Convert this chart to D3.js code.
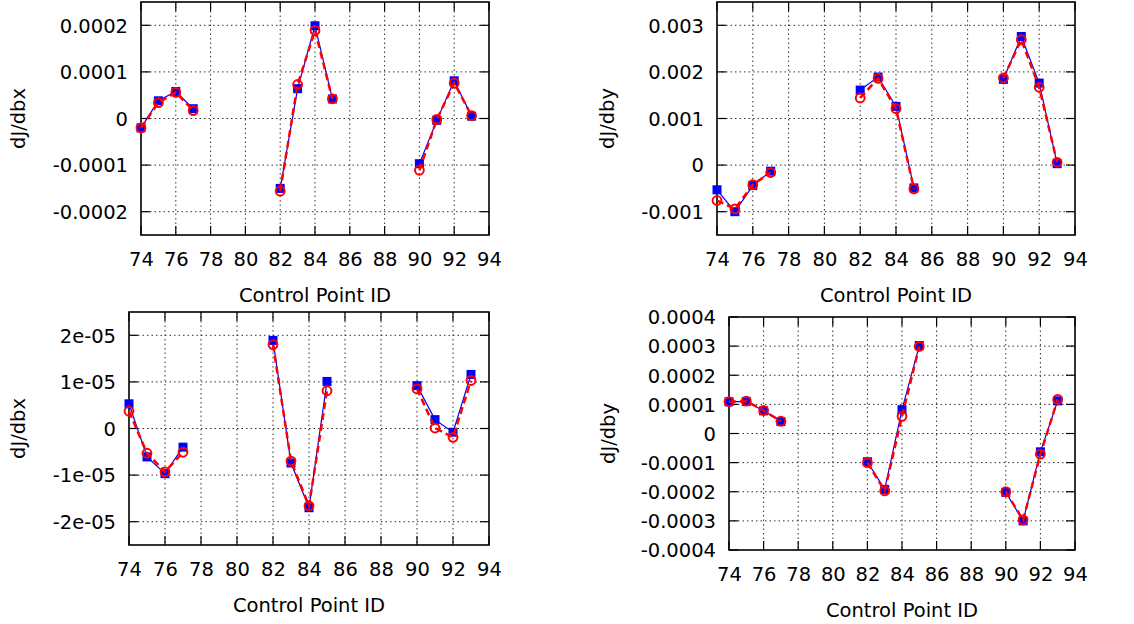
<!DOCTYPE html>
<html><head><meta charset="utf-8">
<script src="https://cdn.jsdelivr.net/npm/d3@7"></script>
<style>
html,body{margin:0;padding:0;background:#fff;}
svg{display:block;font-family:"DejaVu Sans",sans-serif;}
</style></head>
<body>
<svg id="chart" width="1134" height="624"></svg>
<script>
// ---- data ----
const controlIds = [74, 75, 76, 77, 82, 83, 84, 85, 90, 91, 92, 93];
const xTicks = [74, 76, 78, 80, 82, 84, 86, 88, 90, 92, 94];

const topDbxBlue = [-0.000020, 0.000038, 0.000058, 0.000021, -0.000150, 0.000064, 0.000199, 0.000042, -0.000097, -0.000004, 0.000081, 0.000005];
const topDbxRed  = [-0.000020, 0.000034, 0.000056, 0.000017, -0.000156, 0.000073, 0.000189, 0.000042, -0.000111, -0.000002, 0.000076, 0.000006];

const topDbyBlue = [-0.00053, -0.00100, -0.00044, -0.00013, 0.00161, 0.00189, 0.00126, -0.00049, 0.00184, 0.00276, 0.00176, 0.00003];
const topDbyRed  = [-0.00076, -0.00094, -0.00042, -0.00016, 0.00144, 0.00186, 0.00121, -0.00051, 0.00187, 0.00269, 0.00167, 0.00006];

const botDbxBlue = [5.3e-6, -6.1e-6, -9.7e-6, -4.0e-6, 1.89e-5, -7.4e-6, -1.70e-5, 1.01e-5, 9.2e-6, 1.9e-6, -0.8e-6, 1.16e-5];
const botDbxRed  = [3.7e-6, -5.3e-6, -9.3e-6, -5.1e-6, 1.80e-5, -7.0e-6, -1.66e-5, 8.1e-6, 8.5e-6, 0.1e-6, -1.9e-6, 1.03e-5];

const botDbyBlue = [0.000109, 0.000110, 0.000078, 0.000041, -0.000097, -0.000192, 0.000082, 0.000302, -0.000202, -0.000300, -0.000063, 0.000112];
const botDbyRed  = [0.000109, 0.000111, 0.000079, 0.000042, -0.000100, -0.000197, 0.000059, 0.000299, -0.000200, -0.000297, -0.000071, 0.000117];

const topDbxTicks = [0.0002, 0.0001, 0, -0.0001, -0.0002];
const topDbxTickLabels = ["0.0002", "0.0001", "0", "-0.0001", "-0.0002"];
const topDbyTicks = [0.003, 0.002, 0.001, 0, -0.001];
const topDbyTickLabels = ["0.003", "0.002", "0.001", "0", "-0.001"];
const botDbxTicks = [2e-5, 1e-5, 0, -1e-5, -2e-5];
const botDbxTickLabels = ["2e-05", "1e-05", "0", "-1e-05", "-2e-05"];
const botDbyTicks = [0.0004, 0.0003, 0.0002, 0.0001, 0, -0.0001, -0.0002, -0.0003, -0.0004];
const botDbyTickLabels = ["0.0004", "0.0003", "0.0002", "0.0001", "0", "-0.0001", "-0.0002", "-0.0003", "-0.0004"];

const xLabel = "Control Point ID";

// ---- layout ----
const FS = 19.5;
const panels = [
  {box:[141, 489, 2, 235], yDom:[-0.00025, 0.00025], ticks:topDbxTicks, labels:topDbxTickLabels, ylab:"dJ/dbx", ylabX:18, blue:topDbxBlue, red:topDbxRed},
  {box:[717, 1075, 2, 235], yDom:[-0.0015, 0.0035], ticks:topDbyTicks, labels:topDbyTickLabels, ylab:"dJ/dby", ylabX:607, blue:topDbyBlue, red:topDbyRed},
  {box:[129, 489, 312, 545], yDom:[-2.5e-5, 2.5e-5], ticks:botDbxTicks, labels:botDbxTickLabels, ylab:"dJ/dbx", ylabX:18, blue:botDbxBlue, red:botDbxRed},
  {box:[729, 1075, 317, 550], yDom:[-0.0004, 0.0004], ticks:botDbyTicks, labels:botDbyTickLabels, ylab:"dJ/dby", ylabX:608, blue:botDbyBlue, red:botDbyRed}
];

const svg = d3.select("#chart");

function runs(values) {
  const pts = controlIds.map((id, i) => ({id, v: values[i]}));
  const out = [];
  let cur = [];
  pts.forEach((p, i) => {
    if (i > 0 && p.id - pts[i - 1].id > 1) { out.push(cur); cur = []; }
    cur.push(p);
  });
  out.push(cur);
  return out;
}

panels.forEach(p => {
  const [L, R, T, B] = p.box;
  const x = d3.scaleLinear().domain([74, 94]).range([L, R]);
  const y = d3.scaleLinear().domain(p.yDom).range([B, T]);
  const g = svg.append("g");

  // grid
  const grid = g.append("g").attr("stroke", "#333").attr("stroke-width", 1)
    .attr("stroke-dasharray", "1.5,3");
  xTicks.filter(t => t > 74 && t < 94).forEach(t => {
    grid.append("line").attr("x1", x(t)).attr("x2", x(t)).attr("y1", T).attr("y2", B);
  });
  p.ticks.filter(t => y(t) > T + 1 && y(t) < B - 1).forEach(t => {
    grid.append("line").attr("x1", L).attr("x2", R).attr("y1", y(t)).attr("y2", y(t));
  });

  // axes (gnuplot style: inward ticks, mirrored)
  const tl = 9;
  const ax = g.append("g").attr("stroke", "#000").attr("stroke-width", 1.2);
  xTicks.forEach(t => {
    ax.append("line").attr("x1", x(t)).attr("x2", x(t)).attr("y1", B).attr("y2", B - tl);
    ax.append("line").attr("x1", x(t)).attr("x2", x(t)).attr("y1", T).attr("y2", T + tl);
  });
  p.ticks.forEach(t => {
    ax.append("line").attr("x1", L).attr("x2", L + tl).attr("y1", y(t)).attr("y2", y(t));
    ax.append("line").attr("x1", R).attr("x2", R - tl).attr("y1", y(t)).attr("y2", y(t));
  });
  g.append("rect").attr("x", L).attr("y", T).attr("width", R - L).attr("height", B - T)
    .attr("fill", "none").attr("stroke", "#000").attr("stroke-width", 1.6);

  // tick labels
  const xAxis = d3.axisBottom(x).tickValues(xTicks).tickSize(0).tickPadding(0).tickFormat(d3.format("d"));
  const xa = g.append("g").attr("transform", `translate(0,${B + 24})`).call(xAxis);
  xa.select(".domain").remove();
  xa.selectAll("text").attr("font-size", FS).attr("font-family", "DejaVu Sans").attr("fill", "#000")
    .attr("dy", "0.35em").attr("y", 0);

  const yAxis = d3.axisLeft(y).tickValues(p.ticks).tickSize(0).tickPadding(0)
    .tickFormat((d, i) => p.labels[i]);
  const ya = g.append("g").attr("transform", `translate(${L - 13},0)`).call(yAxis);
  ya.select(".domain").remove();
  ya.selectAll("text").attr("font-size", FS).attr("font-family", "DejaVu Sans").attr("fill", "#000")
    .attr("dy", "0.35em").attr("x", 0);

  // axis titles
  g.append("text").attr("x", (L + R) / 2).attr("y", B + 60).attr("dy", "0.35em")
    .attr("text-anchor", "middle").attr("font-size", FS).text(xLabel);
  g.append("text").attr("transform", `translate(${p.ylabX},${(T + B) / 2}) rotate(-90)`)
    .attr("dy", "0.35em").attr("text-anchor", "middle").attr("font-size", FS).text(p.ylab);

  const line = d3.line().x(d => x(d.id)).y(d => y(d.v));

  // blue series
  runs(p.blue).forEach(r => {
    g.append("path").attr("d", line(r)).attr("fill", "none").attr("stroke", "#0000ff").attr("stroke-width", 1.2);
  });
  g.append("g").selectAll("rect").data(controlIds.map((id, i) => ({id, v: p.blue[i]}))).join("rect")
    .attr("x", d => x(d.id) - 4.5).attr("y", d => y(d.v) - 4.5).attr("width", 9).attr("height", 9)
    .attr("fill", "#0000ff");

  // red series
  runs(p.red).forEach(r => {
    g.append("path").attr("d", line(r)).attr("fill", "none").attr("stroke", "#ff0000").attr("stroke-width", 2.5)
      .attr("stroke-dasharray", "7,4");
  });
  g.append("g").selectAll("circle").data(controlIds.map((id, i) => ({id, v: p.red[i]}))).join("circle")
    .attr("cx", d => x(d.id)).attr("cy", d => y(d.v)).attr("r", 4.4)
    .attr("fill", "none").attr("stroke", "#ff0000").attr("stroke-width", 2);
});
</script>
</body></html>
